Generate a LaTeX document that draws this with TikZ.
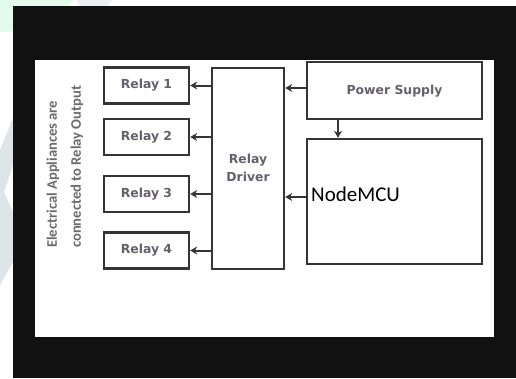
\documentclass[tikz,border=0pt]{standalone}
\usepackage{fontspec}
\newfontfamily\dvfont{DejaVu Sans}
\newfontfamily\cbfont{Carlito}
\usetikzlibrary{arrows.meta}
\definecolor{bgblack}{HTML}{111111}
\definecolor{edge}{HTML}{353535}
\definecolor{labelgray}{HTML}{4A444E}
\definecolor{mint}{HTML}{E4FAEA}
\definecolor{haze}{HTML}{DDE5E9}
\tikzset{
  blk/.style={draw=edge, line width=2.4pt, fill=white, inner sep=0pt},
  lbl/.style={font=\dvfont\bfseries\fontsize{12.4}{16}\selectfont, text=labelgray!85, align=center},
  arr/.style={draw=edge, line width=2pt, -{Stealth[length=7pt,width=8pt]}},
  side/.style={font=\cbfont\bfseries\fontsize{14.6}{18}\selectfont, text=labelgray!80, rotate=90, anchor=west, inner sep=0pt}
}
\begin{document}
\begin{tikzpicture}[x=1pt,y=-1pt]
\useasboundingbox (0,0) rectangle (516,378);
\fill[white] (0,0) rectangle (516,378);
% faint background shapes in the margins
\fill[mint] (0,0) -- (74,0) -- (62,12) -- (30,30) -- (0,32) -- cycle;
\fill[haze!60] (76,0) -- (112,0) -- (108,6) -- (80,6) -- cycle;
\fill[haze] (0,150) -- (13,118) -- (13,165) -- (4,192) -- (13,212) -- (13,262) -- (0,285) -- cycle;
% black frame and white panel
\fill[bgblack] (13,6) rectangle (516,378);
\fill[white] (35,60) rectangle (494,337);
% rotated side text
\node[side] (t1) at (53,248) {Electrical Appliances are};
\node[side] (t2) at (77,248) {connected to Relay Output};
% relays
\node[blk, minimum width=85pt, minimum height=36pt] (r1) at (146.5,85.5) {};
\node[blk, minimum width=85pt, minimum height=36pt] (r2) at (146.5,137) {};
\node[blk, minimum width=85pt, minimum height=36pt] (r3) at (146.5,194) {};
\node[blk, minimum width=85pt, minimum height=36pt] (r4) at (146.5,250.5) {};
\node[lbl] (l1) at (r1) {Relay 1};
\node[lbl] (l2) at (r2) {Relay 2};
\node[lbl] (l3) at (r3) {Relay 3};
\node[lbl] (l4) at (r4) {Relay 4};
% driver
\node[blk, minimum width=72pt, minimum height=201pt] (drv) at (248,168.5) {};
\node[lbl, font=\dvfont\bfseries\fontsize{12.4}{18}\selectfont] (ldrv) at (248,168) {Relay\\Driver};
% power supply
\node[blk, minimum width=175pt, minimum height=57pt] (ps) at (394.5,90.5) {};
\node[lbl] (lps) at (394.5,91) {Power Supply};
% NodeMCU
\node[blk, minimum width=175pt, minimum height=125pt] (mcu) at (394.5,201.5) {};
\node[font=\cbfont\fontsize{21}{24}\selectfont, anchor=base west, inner sep=0pt] (lmcu) at (311,201) {NodeMCU};
% connectors
\draw[arr] (drv.west |- r1.east) -- (r1.east);
\draw[arr] (drv.west |- r2.east) -- (r2.east);
\draw[arr] (drv.west |- r3.east) -- (r3.east);
\draw[arr] (drv.west |- r4.east) -- (r4.east);
\coordinate (psout) at (ps.west |- 0,88);
\draw[arr] (psout) -- (drv.east |- psout);
\coordinate (mcuout) at (mcu.west |- 0,197);
\draw[arr] (mcuout) -- (drv.east |- mcuout);
\coordinate (psdown) at (ps.south -| 338,0);
\draw[arr] (psdown) -- (mcu.north -| psdown);
\end{tikzpicture}
\end{document}
